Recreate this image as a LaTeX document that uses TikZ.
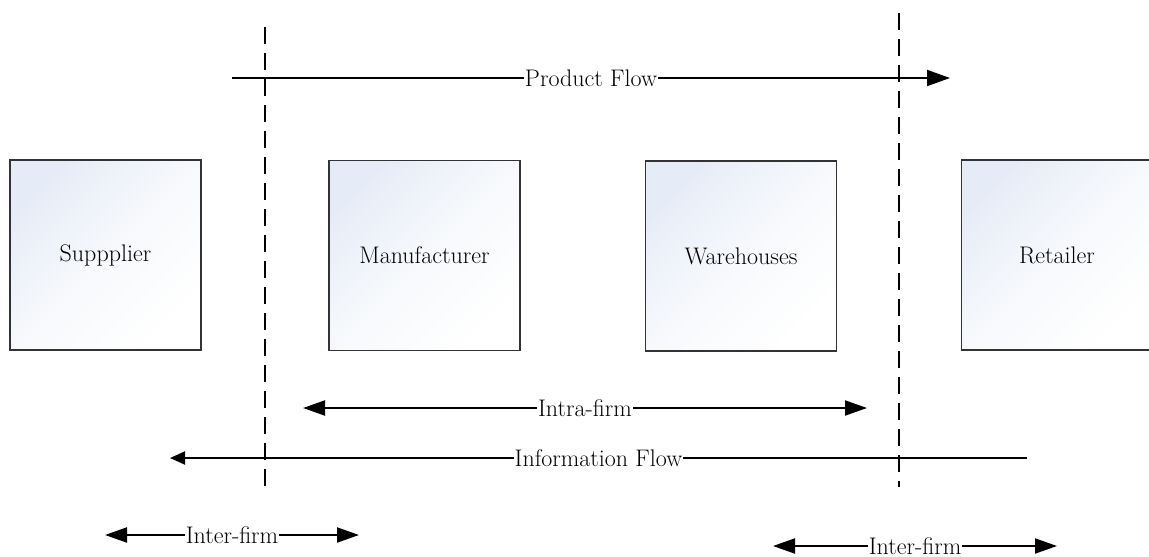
\documentclass[tikz,border=0pt]{standalone}
\usepackage{fontspec}
\usetikzlibrary{arrows.meta}
\definecolor{boxtop}{HTML}{E6ECF7}
\definecolor{boxmid}{HTML}{F7F9FC}
\begin{document}
\begin{tikzpicture}[x=1pt,y=-1pt,
  firm/.style={draw=black!80, line width=1.5pt, minimum width=191pt, minimum height=190pt, inner sep=0pt,
    top color=boxtop, bottom color=white, middle color=boxmid, shading angle=45, font=\fontsize{24}{28}\selectfont},
  flow/.style={line width=2pt},
  lab/.style={fill=white, inner xsep=1pt, inner ysep=0pt, font=\fontsize{24}{28}\selectfont},
  divider/.style={line width=2pt, dash pattern=on 17pt off 9pt}]
\clip (0,0) rectangle (1149,557);
\fill[white] (0,0) rectangle (1149,557);
% firms
\node[firm] (sup) at (105.5,255) {Suppplier};
\node[firm] (man) at (424.5,255.5) {Manufacturer};
\node[firm] (war) at (741,256) {Warehouses};
\node[firm] (ret) at (1057,255) {Retailer};
% boundaries
\coordinate (d1t) at (265,27);  \coordinate (d1b) at (265,491);
\coordinate (d2t) at (899,13);  \coordinate (d2b) at (899,487);
\draw[divider] (d1t) -- (d1b);
\draw[divider] (d2t) -- (d2b);
% flows
\coordinate (pf0) at (232,78);  \coordinate (pf1) at (950,78);
\draw[flow,-{Triangle[length=23pt,width=16pt]}] (pf0) -- node[lab] (pft) {Product Flow} (pf1);
\coordinate (ia0) at (303,408); \coordinate (ia1) at (867,408);
\draw[flow,{Triangle[length=22pt,width=15pt]}-{Triangle[length=22pt,width=15pt]}] (ia0) -- node[lab] (iat) {Intra-firm} (ia1);
\coordinate (if0) at (170,458); \coordinate (if1) at (1027,458);
\draw[flow,{Triangle[length=15pt,width=13pt]}-] (if0) -- node[lab] (ift) {Information Flow} (if1);
\coordinate (ie0) at (105,535); \coordinate (ie1) at (359,535);
\draw[flow,{Triangle[length=22pt,width=15pt]}-{Triangle[length=22pt,width=15pt]}] (ie0) -- node[lab] (iet) {Inter-firm} (ie1);
\coordinate (je0) at (773,546); \coordinate (je1) at (1057,546);
\draw[flow,{Triangle[length=22pt,width=15pt]}-{Triangle[length=22pt,width=15pt]}] (je0) -- node[lab] (jet) {Inter-firm} (je1);
\end{tikzpicture}
\end{document}
